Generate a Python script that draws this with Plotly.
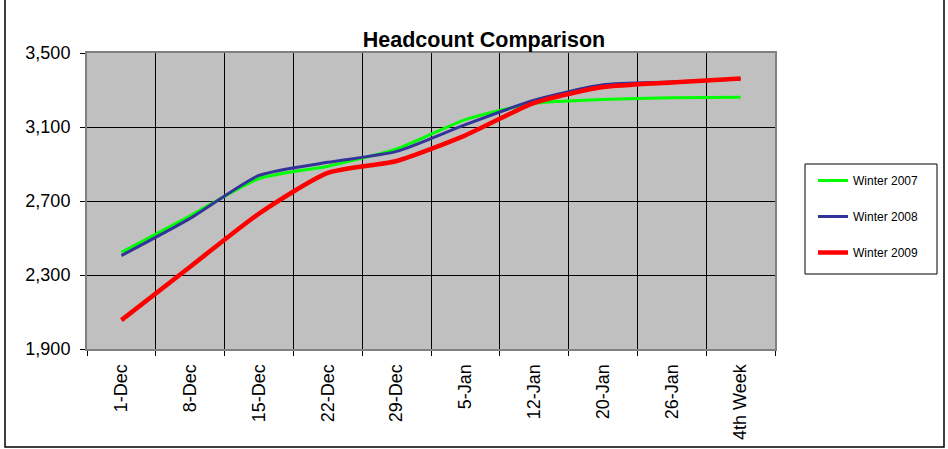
import plotly.graph_objects as go

categories = ["1-Dec", "8-Dec", "15-Dec", "22-Dec", "29-Dec", "5-Jan", "12-Jan", "20-Jan", "26-Jan", "4th Week"]
winter_2007 = [2423, 2620, 2821, 2888, 2982, 3140, 3228, 3249, 3258, 3261]
winter_2008 = [2405, 2606, 2838, 2909, 2968, 3113, 3245, 3328, 3343, 3360]
winter_2009 = [2056, 2345, 2632, 2852, 2916, 3055, 3230, 3316, 3341, 3362]
y_ticks = [1900, 2300, 2700, 3100, 3500]

series = [
    ("Winter 2007", winter_2007, "#00FF00", 3),
    ("Winter 2008", winter_2008, "#333399", 3),
    ("Winter 2009", winter_2009, "#FF0000", 4.5),
]

fig = go.Figure()
for i, (name, vals, color, width) in enumerate(series):
    fig.add_trace(go.Scatter(
        x=categories, y=vals, name=name, mode="lines",
        line=dict(color=color, width=width, shape="spline", smoothing=0.6),
        legendgroup=f"g{i}",
    ))

W, H = 948, 449
L, R, T, B = 87, 775, 53, 349
pw, ph = R - L, B - T

def px_x(p):
    return (p - L) / pw

def px_y(p):
    return (B - p) / ph

fig.update_layout(
    width=W, height=H,
    margin=dict(l=L, r=W - R, t=T, b=H - B, pad=0, autoexpand=False),
    paper_bgcolor="white",
    plot_bgcolor="#C0C0C0",
    font=dict(family="Liberation Sans, Arial, sans-serif", color="black"),
    title=dict(text="<b>Headcount Comparison</b>", x=484 / W, xanchor="center",
               y=1 - 39 / H, yanchor="middle", font=dict(size=21.5, color="black")),
    showlegend=True,
    legend=dict(
        x=px_x(813), y=px_y(166), xanchor="left", yanchor="top",
        bgcolor="rgba(0,0,0,0)", borderwidth=0,
        font=dict(size=12, color="black"),
        tracegroupgap=17, itemwidth=30,
        traceorder="grouped",
    ),
    xaxis=dict(
        type="category",
        range=[-0.5, len(categories) - 0.5],
        tickson="boundaries",
        showgrid=True, gridcolor="black", gridwidth=1,
        ticks="outside", ticklen=5, tickcolor="black",
        tickangle=-90, tickfont=dict(size=18), ticklabelstandoff=6,
        showline=True, linecolor="#808080", linewidth=2, mirror=True,
        zeroline=False, automargin=False,
    ),
    yaxis=dict(
        range=[1900, 3500],
        tickvals=y_ticks,
        tickformat=",d",
        showgrid=True, gridcolor="black", gridwidth=1,
        ticks="outside", ticklen=5, tickcolor="black",
        tickfont=dict(size=18), ticklabelstandoff=6,
        showline=True, linecolor="#808080", linewidth=2, mirror=True,
        zeroline=False, automargin=False,
    ),
    shapes=[
        dict(
            type="rect", xref="paper", yref="paper",
            x0=px_x(5), x1=px_x(944), y0=px_y(447), y1=px_y(-3),
            line=dict(color="black", width=1.5), fillcolor="rgba(0,0,0,0)",
            layer="below",
        ),
        dict(
            type="rect", xref="paper", yref="paper",
            x0=px_x(805), x1=px_x(937), y0=px_y(274), y1=px_y(164),
            line=dict(color="black", width=1), fillcolor="white",
            layer="below",
        ),
    ],
)

fig.write_html(
    "out.html",
    config={"displayModeBar": False},
    post_script="document.body.style.margin='0';document.body.style.overflow='hidden';",
)
